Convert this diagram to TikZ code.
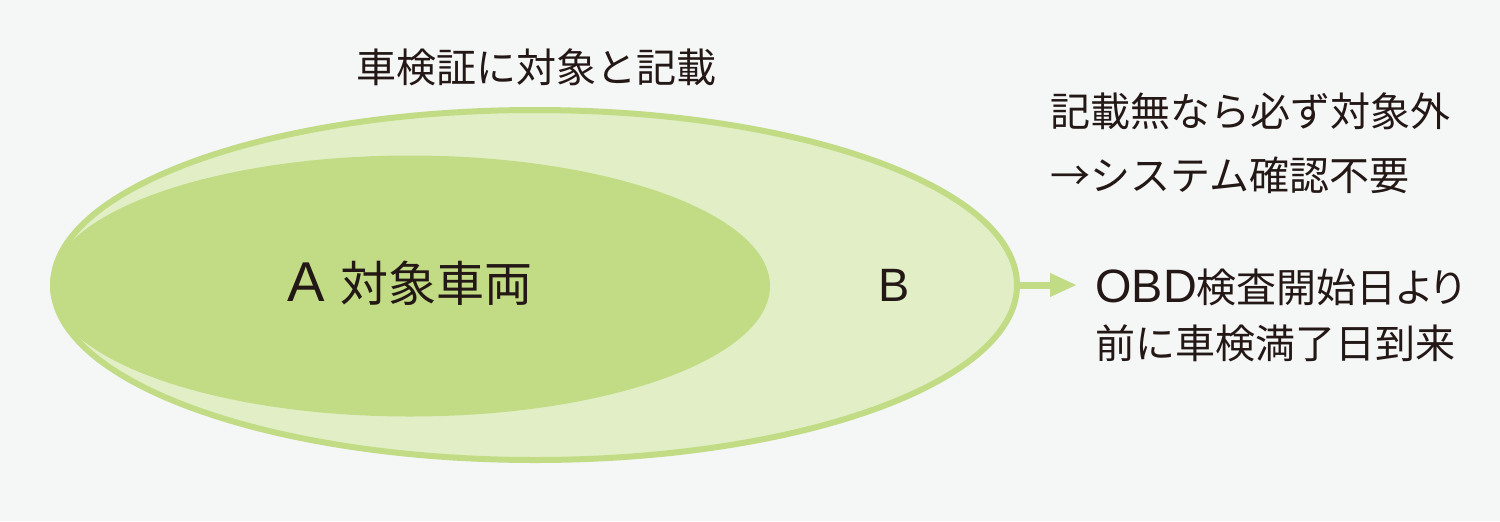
\documentclass[tikz,border=0pt]{standalone}
\usepackage{fontspec}
\newfontfamily\jpf{Noto Sans CJK JP}
\newfontfamily\jpp{Noto Sans CJK JP}[RawFeature=+palt]
\newfontfamily\latf{Liberation Sans}[Scale=1.17]
\usetikzlibrary{shapes.geometric,arrows.meta}
\definecolor{bgc}{HTML}{F5F6F6}
\definecolor{gdark}{HTML}{C2DC85}
\definecolor{glight}{HTML}{E2EFC6}
\definecolor{inkc}{HTML}{231815}
\begin{document}
\begin{tikzpicture}[x=0.5pt,y=-0.5pt,
  jtxt/.style={inner sep=0pt, text=inkc, font=\jpf\fontsize{20pt}{24pt}\selectfont, text height=17.6pt, text depth=2.4pt},
  outerell/.style={ellipse, draw=gdark, fill=glight, line width=3pt, inner sep=0pt, minimum width=482pt, minimum height=175pt},
  innerell/.style={ellipse, fill=gdark, inner sep=0pt, minimum width=360pt, minimum height=130.5pt, text=inkc, font=\jpf\fontsize{24pt}{28pt}\selectfont, text height=21.1pt, text depth=5.9pt},
  conn/.style={draw=gdark, line width=3.5pt, -{Triangle[length=13.5pt,width=11pt]}}
]
\fill[bgc] (0,0) rectangle (1500,521);
\node[outerell] (outer) at (535,285) {};
\node[innerell] (inner) at (410,286) {{\latf A\ }対象車両};
\node[jtxt, anchor=base, font=\latf\fontsize{20pt}{24pt}\selectfont] (b) at (894,301) {B};
\node[jtxt] (top) at (536,67) {車検証に対象と記載};
\node[jtxt, anchor=west] (r1) at (1050,111) {記載無なら必ず対象外};
\node[jtxt, anchor=west] (r2) at (1050,175) {→システム確認不要};
\node[jtxt, anchor=west] (r3) at (1095,287.5) {{\latf OBD}検査開始日{\jpp より}};
\node[jtxt, anchor=west] (r4) at (1095,343.5) {前に車検満了日到来};
\coordinate (tip) at (1077,285);
\draw[conn] (outer.east) -- (tip);
\end{tikzpicture}
\end{document}
